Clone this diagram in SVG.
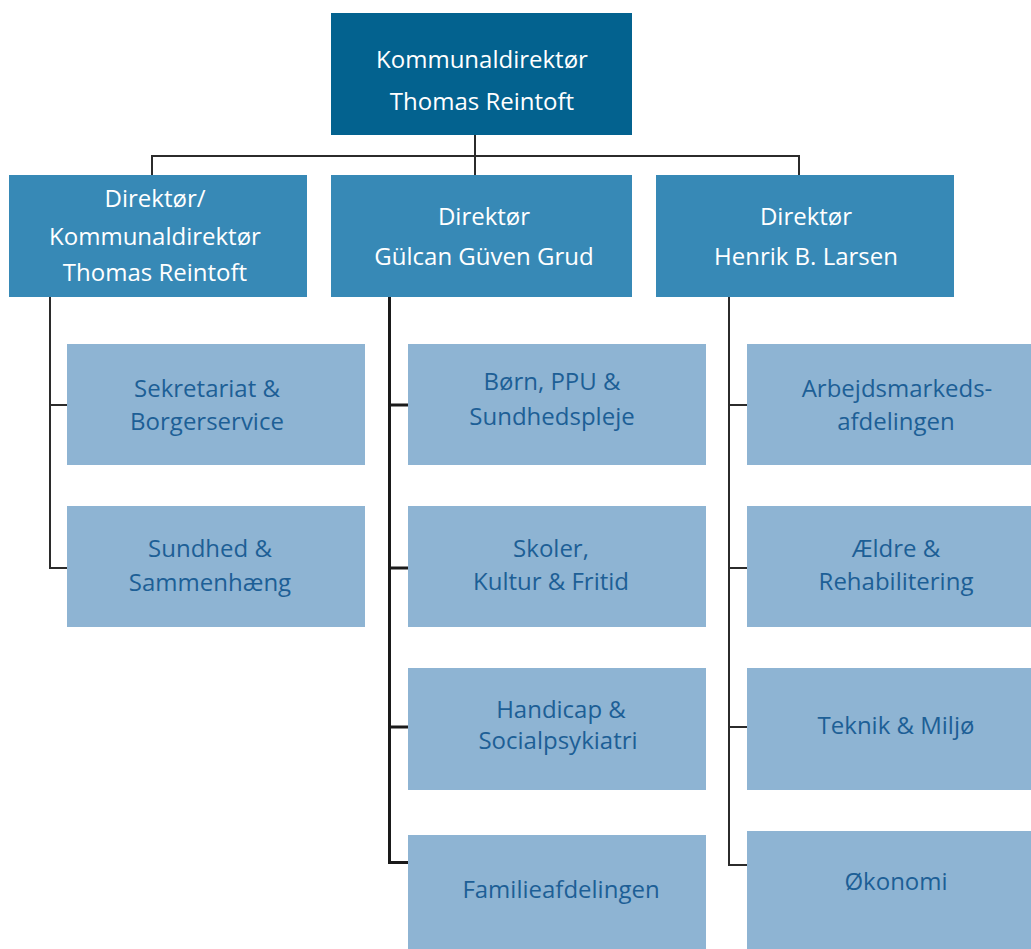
<svg xmlns="http://www.w3.org/2000/svg" width="1031" height="949" viewBox="0 0 1031 949">
<style>
.top{fill:#03628f}
.dir{fill:#3789b6}
.dep{fill:#8eb4d3}
text{font-family:"Open Sans","Noto Sans",sans-serif;font-size:24px;text-anchor:middle}
.w{fill:#ffffff}
.b{fill:#1d5f96}
.ln{stroke:#2b2b2b;stroke-width:2;fill:none}
.lt{stroke:#1a1a1a;stroke-width:3;fill:none}
</style>
<rect width="1031" height="949" fill="#ffffff"/>
<g id="connectors">
<path class="ln" d="M475 135V175M152 175V156H799V175"/>
<path class="ln" d="M50 297V568H67M50 405H67"/>
<path class="lt" d="M389.5 297V862.5H408M389 405H408M389 568H408M389 727H408"/>
<path class="ln" d="M729 297V865H747M729 405H747M729 568H747M729 727H747"/>
</g>
<g id="n-kd"><rect class="top" x="331" y="13" width="301" height="122"/><text class="w" x="482" y="68">Kommunaldirektør</text><text class="w" x="482" y="110">Thomas Reintoft</text></g>
<g id="n-d1"><rect class="dir" x="9" y="175" width="298" height="122"/><text class="w" x="155" y="207">Direktør/</text><text class="w" x="155" y="245">Kommunaldirektør</text><text class="w" x="155" y="281">Thomas Reintoft</text></g>
<g id="n-d2"><rect class="dir" x="331" y="175" width="301" height="122"/><text class="w" x="484" y="225">Direktør</text><text class="w" x="484" y="265">Gülcan Güven Grud</text></g>
<g id="n-d3"><rect class="dir" x="656" y="175" width="298" height="122"/><text class="w" x="806" y="225">Direktør</text><text class="w" x="806" y="265">Henrik B. Larsen</text></g>
<g id="n-sek"><rect class="dep" x="67" y="344" width="298" height="121"/><text class="b" x="207" y="397">Sekretariat &amp;</text><text class="b" x="207" y="430">Borgerservice</text></g>
<g id="n-sun"><rect class="dep" x="67" y="506" width="298" height="121"/><text class="b" x="210" y="557">Sundhed &amp;</text><text class="b" x="210" y="591">Sammenhæng</text></g>
<g id="n-born"><rect class="dep" x="408" y="344" width="298" height="121"/><text class="b" x="552" y="390">Børn, PPU &amp;</text><text class="b" x="552" y="425">Sundhedspleje</text></g>
<g id="n-skol"><rect class="dep" x="408" y="506" width="298" height="121"/><text class="b" x="551" y="557">Skoler,</text><text class="b" x="551" y="590">Kultur &amp; Fritid</text></g>
<g id="n-hand"><rect class="dep" x="408" y="668" width="298" height="122"/><text class="b" x="561" y="718">Handicap &amp;</text><text class="b" x="558" y="749">Socialpsykiatri</text></g>
<g id="n-fam"><rect class="dep" x="408" y="835" width="298" height="120"/><text class="b" x="561" y="898">Familieafdelingen</text></g>
<g id="n-arb"><rect class="dep" x="747" y="344" width="298" height="121"/><text class="b" x="897" y="397">Arbejdsmarkeds-</text><text class="b" x="896" y="430">afdelingen</text></g>
<g id="n-aeld"><rect class="dep" x="747" y="506" width="298" height="121"/><text class="b" x="896" y="557">Ældre &amp;</text><text class="b" x="896" y="590">Rehabilitering</text></g>
<g id="n-tek"><rect class="dep" x="747" y="668" width="298" height="122"/><text class="b" x="896" y="734">Teknik &amp; Miljø</text></g>
<g id="n-oko"><rect class="dep" x="747" y="831" width="298" height="124"/><text class="b" x="896" y="890">Økonomi</text></g>
</svg>
